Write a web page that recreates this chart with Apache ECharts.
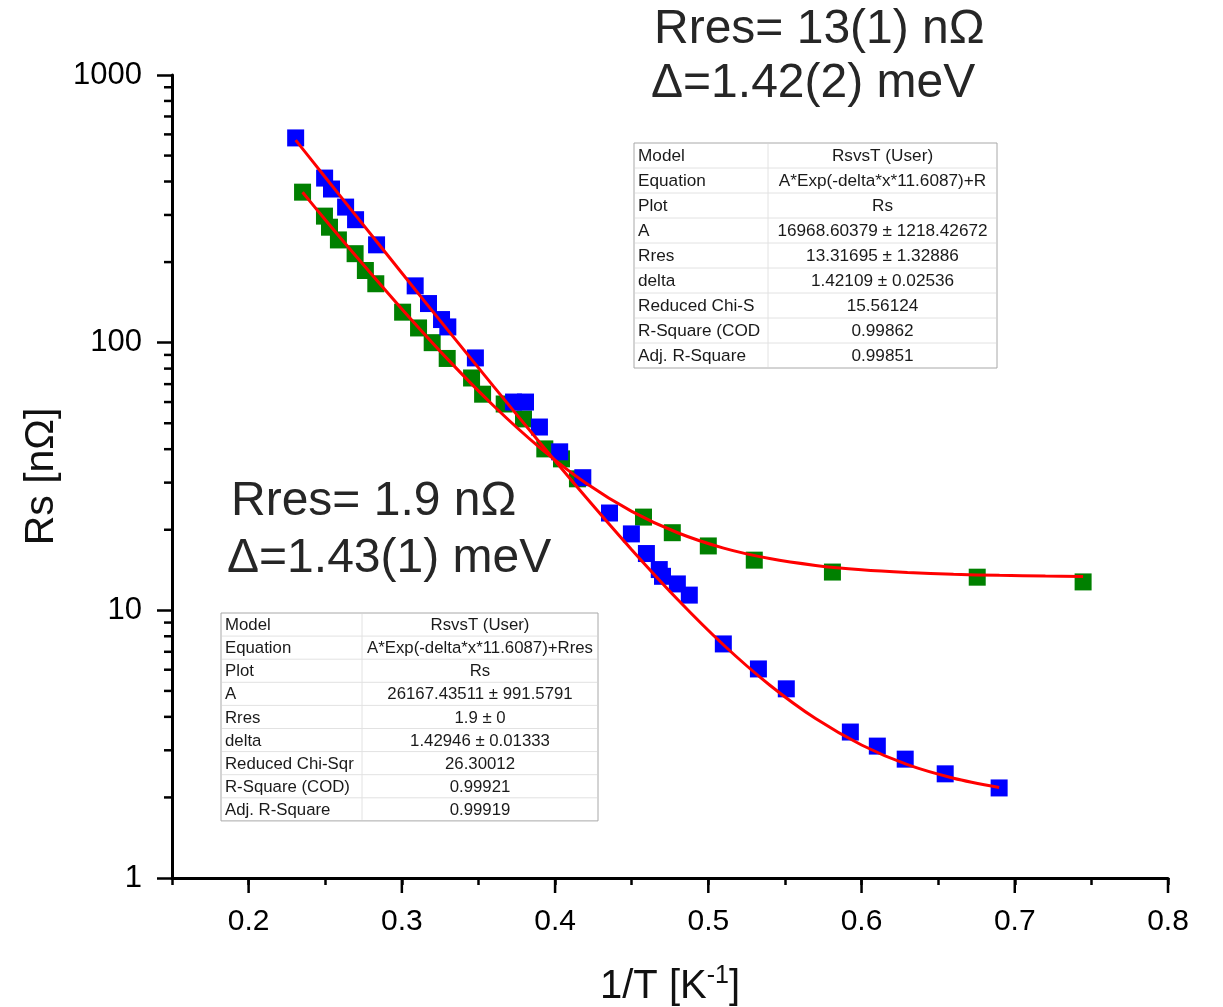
<!DOCTYPE html>
<html><head><meta charset="utf-8">
<script src="https://cdn.jsdelivr.net/npm/echarts@6/dist/echarts.min.js"></script>
<style>html,body{margin:0;padding:0;background:#fff}#c{width:1223px;height:1007px}</style>
</head><body><div id="c"></div>
<script>
// ---- data ----
const blueX = [0.2307,0.2496,0.2541,0.2633,0.2698,0.2835,0.3087,0.3174,0.3259,0.3300,0.3480,0.3729,0.3807,0.3898,0.4030,0.4181,0.4355,0.4498,0.4596,0.4680,0.4701,0.4798,0.4876,0.5098,0.5327,0.5509,0.5927,0.6103,0.6285,0.6546,0.6898];
const blueY = [582,412,375,321,288,232,163,140,122,114.5,87.7,60.0,60.0,48.4,39.1,31.3,23.1,19.3,16.3,14.2,13.4,12.55,11.4,7.49,6.04,5.09,3.51,3.11,2.78,2.45,2.17];
const greenX = [0.2352,0.2495,0.2528,0.2586,0.2695,0.2762,0.2830,0.3005,0.3109,0.3198,0.3296,0.3455,0.3527,0.3668,0.3794,0.3933,0.4042,0.4146,0.4577,0.4765,0.5000,0.5300,0.5810,0.6755,0.7446];
const greenY = [365,297,270,242,215,186,166,130,113.5,100,87.3,73.8,64.2,59.0,51.9,40.1,36.8,31.0,22.3,19.5,17.4,15.4,13.9,13.3,12.77];
// red fit curves (values along the drawn curves)
const fitBlueX = [0.2307,0.25,0.27,0.30,0.33,0.36,0.39,0.42,0.45,0.48,0.51,0.54,0.57,0.60,0.63,0.66,0.6898];
const fitBlueY = [571,415,298.4,182.1,111.4,68.5,42.35,26.5,16.85,10.98,7.42,5.26,3.94,3.14,2.65,2.36,2.18];
const fitGreenX = [0.2352,0.25,0.27,0.30,0.33,0.36,0.39,0.42,0.45,0.48,0.51,0.54,0.57,0.60,0.63,0.66,0.69,0.72,0.7446];
const fitGreenY = [364.8,287.8,210.7,133.6,86.6,58.0,40.56,29.9,23.44,19.49,17.08,15.61,14.72,14.17,13.84,13.63,13.51,13.43,13.39];
// tick values
const xMajorTicks = [0.2,0.3,0.4,0.5,0.6,0.7,0.8];
const yMinorTicks = [2,3,4,5,6,7,8,9,20,30,40,50,60,70,80,90,200,300,400,500,600,700,800,900];
const xMin = 0.15, xMax = 0.8, yMin = 1, yMax = 1000;
// annotation texts
const noteTop = ['Rres= 13(1) nΩ', 'Δ=1.42(2) meV'];
const noteBottom = ['Rres= 1.9 nΩ', 'Δ=1.43(1) meV'];
const table1Keys = ['Model','Equation','Plot','A','Rres','delta','Reduced Chi-S','R-Square (COD','Adj. R-Square'];
const table1Vals = ['RsvsT (User)','A*Exp(-delta*x*11.6087)+R','Rs','16968.60379 ± 1218.42672','13.31695 ± 1.32886','1.42109 ± 0.02536','15.56124','0.99862','0.99851'];
const table2Keys = ['Model','Equation','Plot','A','Rres','delta','Reduced Chi-Sqr','R-Square (COD)','Adj. R-Square'];
const table2Vals = ['RsvsT (User)','A*Exp(-delta*x*11.6087)+Rres','Rs','26167.43511 ± 991.5791','1.9 ± 0','1.42946 ± 0.01333','26.30012','0.99921','0.99919'];

const FONT = '"Liberation Sans", Arial, Helvetica, sans-serif';
const zip = (a, b) => a.map((v, i) => [v, b[i]]);

function makeTable(left, top, width, colX, rowH, keys, vals, fs) {
  const els = [];
  const h = rowH * keys.length;
  els.push({type:'rect', shape:{x:left, y:top, width:width, height:h}, style:{fill:'#fff', stroke:'#a8a8a8', lineWidth:1}, z:10});
  for (let i = 1; i < keys.length; i++) {
    els.push({type:'line', shape:{x1:left+1, y1:top+i*rowH, x2:left+width-1, y2:top+i*rowH}, style:{stroke:'#e2e2e2', lineWidth:1}, z:11});
  }
  els.push({type:'line', shape:{x1:colX, y1:top+1, x2:colX, y2:top+h-1}, style:{stroke:'#e2e2e2', lineWidth:1}, z:11});
  keys.forEach((k, i) => {
    const yc = top + i*rowH + rowH/2 + 1;
    els.push({type:'text', z:12, style:{text:k, x:left+4, y:yc, fontSize:fs, fontFamily:FONT, fill:'#1a1a1a', textAlign:'left', textVerticalAlign:'middle', align:'left', verticalAlign:'middle'}});
    els.push({type:'text', z:12, style:{text:vals[i], x:(colX+left+width)/2, y:yc, fontSize:fs, fontFamily:FONT, fill:'#1a1a1a', textAlign:'center', textVerticalAlign:'middle', align:'center', verticalAlign:'middle'}});
  });
  return els;
}

function bigText(t, x, y) {
  return {type:'text', z:5, style:{text:t, x:x, y:y, fontSize:48, fontFamily:FONT, fill:'#262626', textAlign:'left', textVerticalAlign:'top', align:'left', verticalAlign:'top'}};
}

const graphics = [].concat(
  [bigText(noteTop[0], 654, 6), bigText(noteTop[1], 651, 60), bigText(noteBottom[0], 231, 478), bigText(noteBottom[1], 227, 535)],
  makeTable(634, 143, 363, 768, 25, table1Keys, table1Vals, 17.2),
  makeTable(221, 613, 377, 362, 23.1, table2Keys, table2Vals, 16.8)
);

const chart = echarts.init(document.getElementById('c'));
chart.setOption({
  animation: false,
  backgroundColor: '#fff',
  grid: {left: 172, right: 55, top: 75, bottom: 129, containLabel: false, outerBoundsMode: 'none'},
  xAxis: {
    type: 'value', min: xMin, max: xMax, interval: 0.05,
    name: '1/T [K{sup|-1}]', nameLocation: 'middle', nameGap: 86,
    nameTextStyle: {fontSize: 40, fontFamily: FONT, color: '#111', lineHeight: 46,
      rich: {sup: {fontSize: 25, fontFamily: FONT, color: '#111', verticalAlign: 'top', lineHeight: 46, padding: [0, 0, 16, 0]}}},
    axisLine: {show: true, onZero: false, lineStyle: {color: '#000', width: 3}},
    axisTick: {show: true, inside: false, length: 7, lineStyle: {color: '#000', width: 2.5}},
    axisLabel: {fontSize: 30, fontFamily: FONT, color: '#000', margin: 29,
      formatter: v => (Math.round(v * 100) % 10 === 0 ? String(Math.round(v * 10) / 10) : '')},
    splitLine: {show: false}
  },
  yAxis: {
    type: 'log', logBase: 10, min: yMin, max: yMax,
    name: 'Rs [nΩ]', nameLocation: 'middle', nameGap: 110, nameRotate: 90,
    nameTextStyle: {fontSize: 41, fontFamily: FONT, color: '#111'},
    axisLine: {show: true, onZero: false, lineStyle: {color: '#000', width: 3}},
    axisTick: {show: true, inside: false, length: 15, lineStyle: {color: '#000', width: 2.5}},
    axisLabel: {fontSize: 31, fontFamily: FONT, color: '#000', margin: 30, formatter: v => String(Math.round(v))},
    splitLine: {show: false}, minorTick: {show: false}
  },
  series: [
    {type: 'custom', name: 'yMinor', silent: true, clip: false, z: 3,
      data: yMinorTicks.map(v => [xMin, v]),
      renderItem: (params, api) => {
        const p = api.coord([api.value(0), api.value(1)]);
        return {type: 'line', shape: {x1: p[0] - 8, y1: p[1], x2: p[0], y2: p[1]}, style: {stroke: '#000', lineWidth: 2.5}};
      }},
    {type: 'custom', name: 'xMajor', silent: true, clip: false, z: 3,
      data: xMajorTicks.map(v => [v, yMin]),
      renderItem: (params, api) => {
        const p = api.coord([api.value(0), api.value(1)]);
        return {type: 'line', shape: {x1: p[0], y1: p[1], x2: p[0], y2: p[1] + 15}, style: {stroke: '#000', lineWidth: 2.5}};
      }},
    {type: 'scatter', name: 'green', symbol: 'rect', symbolSize: 17, data: zip(greenX, greenY),
      itemStyle: {color: '#008000', opacity: 1}, z: 4},
    {type: 'scatter', name: 'blue', symbol: 'rect', symbolSize: 17, data: zip(blueX, blueY),
      itemStyle: {color: '#0000ff', opacity: 1}, z: 5},
    {type: 'line', name: 'fitGreen', data: zip(fitGreenX, fitGreenY), smooth: 0.3, showSymbol: false, symbol: 'none',
      lineStyle: {color: '#ff0000', width: 3}, z: 6},
    {type: 'line', name: 'fitBlue', data: zip(fitBlueX, fitBlueY), smooth: 0.3, showSymbol: false, symbol: 'none',
      lineStyle: {color: '#ff0000', width: 3}, z: 6}
  ],
  graphic: {elements: graphics}
});
</script>
</body></html>
